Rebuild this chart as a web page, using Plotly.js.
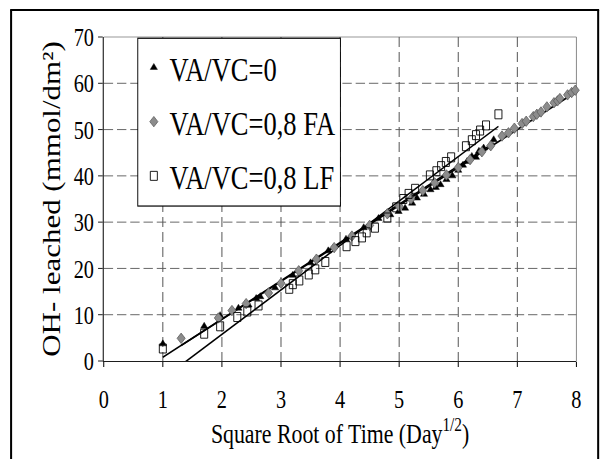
<!DOCTYPE html>
<html><head><meta charset="utf-8">
<script src="https://cdn.plot.ly/plotly-3.0.1.min.js"></script>
<style>
html,body{margin:0;padding:0;background:#fff;overflow:hidden;width:602px;height:459px}
#chart{width:772px;height:459px;transform:scaleX(0.78);transform-origin:0 0;}
</style>
</head><body><div id="chart"></div>
<script>
// ---- data ----
const seriesNames = ['VA/VC=0', 'VA/VC=0,8 FA', 'VA/VC=0,8 LF'];

const triX = [1.00,1.70,1.97,2.28,2.45,2.58,2.65,2.90,3.20,3.50,3.80,4.10,4.40,4.65,4.85,4.99,5.10,5.22,5.30,5.42,5.53,5.62,5.70,5.80,5.90,6.00,6.08,6.15,6.23,6.30,6.35,6.43,6.60];
const triY = [3.7,7.5,9.8,11.4,12.1,13.5,13.9,15.8,18.5,21.2,23.8,26.3,28.8,30.8,31.6,32.3,33.0,34.1,35.2,36.0,37.0,37.5,38.1,39.2,40.0,41.2,42.3,43.1,44.2,44.0,45.3,46.0,47.8];

const faX = [1.31,1.94,2.17,2.41,2.79,3.00,3.30,3.60,3.90,4.20,4.50,4.80,5.00,5.20,5.40,5.60,5.80,6.00,6.20,6.40,6.55,6.74,6.85,6.95,7.08,7.15,7.27,7.33,7.40,7.50,7.62,7.68,7.72,7.85,7.92,7.98];
const faY = [4.9,9.3,10.9,12.4,14.7,16.8,19.5,22.0,24.5,27.0,29.3,31.8,33.4,35.0,36.8,38.5,40.2,41.8,43.5,45.2,46.5,48.6,49.3,50.3,51.3,51.8,52.8,53.3,53.8,54.9,55.8,56.2,56.7,57.5,58.0,58.5];

const lfX = [1.00,1.70,1.97,2.26,2.43,2.62,3.14,3.20,3.31,3.47,3.58,3.75,4.11,4.26,4.37,4.45,4.59,4.80,4.95,5.07,5.16,5.27,5.52,5.63,5.71,5.79,5.88,6.13,6.23,6.30,6.37,6.47,6.68];
const lfY = [2.7,5.9,7.5,9.5,10.7,12.0,15.6,16.6,17.4,18.7,19.8,21.4,24.8,25.9,26.7,27.8,28.8,31.0,33.2,35.0,36.1,37.2,40.1,41.0,42.1,43.0,44.0,46.4,47.7,48.8,49.8,50.9,53.3];

// linear trend lines (slope, intercept)
const trendSlope = [8.27, 8.20, 9.60];
const trendIntercept = [-7.47, -7.40, -13.44];

const xTickVals = [0,1,2,3,4,5,6,7,8];
const yTickVals = [0,10,20,30,40,50,60,70];

// ---- chart ----
const FONT = '"Liberation Serif", "Times New Roman", Times, serif';
const xs = [triX, faX, lfX];
const ys = [triY, faY, lfY];

const markerStyles = [
  {symbol:'triangle-up', size:8, color:'#000000', line:{color:'#000000', width:0.5}},
  {symbol:'diamond', size:8, color:'#8c8c8c', line:{color:'#555555', width:0.8}},
  {symbol:'square-open', size:9, color:'#000000', line:{color:'#000000', width:1}}
];

const traces = [];
for (let i = 0; i < 3; i++) {
  const xmin = Math.min(...xs[i]), xmax = Math.max(...xs[i]);
  traces.push({
    x:[xmin, xmax],
    y:[trendSlope[i]*xmin + trendIntercept[i], trendSlope[i]*xmax + trendIntercept[i]],
    mode:'lines', line:{color:'#000', width:1.7}, showlegend:false, hoverinfo:'skip'
  });
}
for (let i = 0; i < 3; i++) {
  traces.push({x:xs[i], y:ys[i], mode:'markers', name:seriesNames[i], legendgroup:'g' + i,
               marker:markerStyles[i], cliponaxis:false});
}

const layout = {
  width:772, height:459,
  margin:{l:133, r:33, t:37, b:98},
  paper_bgcolor:'#fff', plot_bgcolor:'#fff',
  font:{family:FONT, color:'#000'},
  showlegend:true,
  legend:{x:0.071, y:0.998, xanchor:'left', yanchor:'top', bgcolor:'#fff', traceorder:'grouped',
          tracegroupgap:7, bordercolor:'#000', borderwidth:1.2,
          font:{family:FONT, size:34, color:'#000'}},
  xaxis:{range:[0,8], tickvals:xTickVals, showgrid:true, gridcolor:'#555555', gridwidth:1.28,
         griddash:'10px,5px', showline:true, linecolor:'#000', linewidth:1, zeroline:false,
         ticks:'outside', ticklen:5, tickcolor:'#000', tickwidth:1.28, ticklabelstandoff:10,
         tickfont:{family:FONT, size:26, color:'#000'},
         title:{text:'Square Root of Time (Day<sup>1/2</sup>)', font:{family:FONT, size:28, color:'#000'}, standoff:4}},
  yaxis:{range:[0,70], tickvals:yTickVals, showgrid:true, gridcolor:'#555555', gridwidth:1,
         griddash:'12px,5px', showline:true, linecolor:'#000', linewidth:1.28, zeroline:false,
         ticks:'outside', ticklen:6, tickcolor:'#000', tickwidth:1,
         tickfont:{family:FONT, size:26, color:'#000'},
         title:{text:'OH- leached (mmol/dm²)', font:{family:FONT, size:31, color:'#000'}, standoff:8}},
  shapes:[
    {type:'line', xref:'paper', yref:'paper', x0:0, x1:1, y0:1, y1:1, line:{color:'#8a8a8a', width:1}, layer:'below'},
    {type:'line', xref:'paper', yref:'paper', x0:1, x1:1, y0:0, y1:1, line:{color:'#8a8a8a', width:1.28}, layer:'below'},
    {type:'path', xref:'paper', yref:'paper', path:'M -0.196,-0.4 L -0.196,1.083', line:{color:'#000', width:2.6}},
    {type:'path', xref:'paper', yref:'paper', path:'M -0.198,1.083 L 1.048,1.083', line:{color:'#000', width:2}},
    {type:'path', xref:'paper', yref:'paper', path:'M 1.046,1.083 L 1.046,-0.4', line:{color:'#000', width:2.6}}
  ]
};

Plotly.newPlot('chart', traces, layout, {staticPlot:true, displayModeBar:false});
</script>
</body></html>
